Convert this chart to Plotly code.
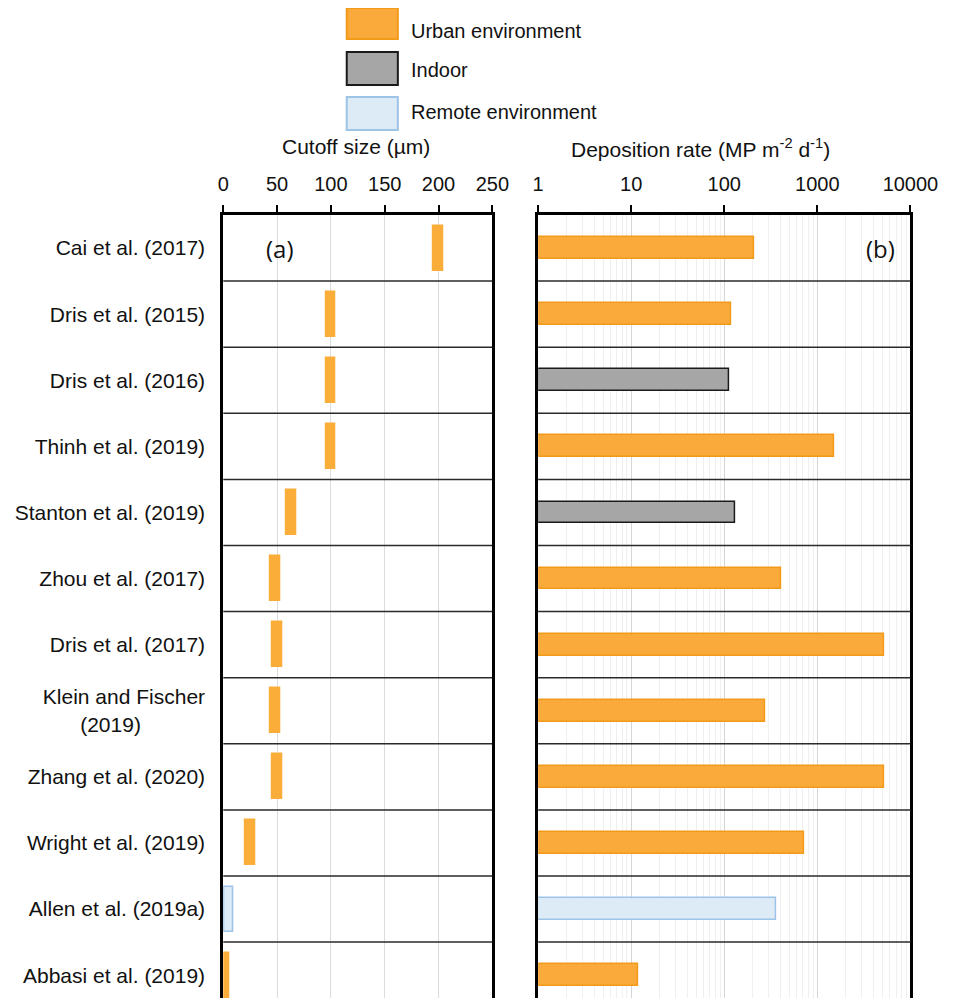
import plotly.graph_objects as go

PAGE_W, PAGE_H = 972, 1006
OFF = 8  # default body margin of the written page
W, H = PAGE_W - 2 * OFF, PAGE_H - 2 * OFF  # figure fits inside the page, no overflow

# ---------------- data ----------------
studies = [
    "Cai et al. (2017)",
    "Dris et al. (2015)",
    "Dris et al. (2016)",
    "Thinh et al. (2019)",
    "Stanton et al. (2019)",
    "Zhou et al. (2017)",
    "Dris et al. (2017)",
    "Klein and Fischer<br>(2019)" + "\u00a0" * 11,
    "Zhang et al. (2020)",
    "Wright et al. (2019)",
    "Allen et al. (2019a)",
    "Abbasi et al. (2019)",
]
environment = ["Urban", "Urban", "Indoor", "Urban", "Indoor", "Urban",
               "Urban", "Urban", "Urban", "Urban", "Remote", "Urban"]
cutoff_um = [200, 100, 100, 100, 63, 48, 50, 48, 50, 25, 5, 1]
deposition = [208, 118, 112, 1500, 130, 410, 5200, 275, 5200, 730, 365, 12]

env_names = ["Urban", "Indoor", "Remote"]
legend_labels = ["Urban environment", "Indoor", "Remote environment"]

cutoff_ticks = [0, 50, 100, 150, 200, 250]
dep_ticks = [1, 10, 100, 1000, 10000]
dep_ticktext = ["1", "10", "100", "1000", "10000"]

# ---------------- styles ----------------
fill = {"Urban": "#F9AA3A", "Indoor": "#A6A6A6", "Remote": "#DDEBF7"}
edge = {"Urban": "#F29A1A", "Indoor": "#1A1A1A", "Remote": "#9DC3E6"}
# panel (a) shows indoor studies in the same orange as urban ones
fill_a = {"Urban": "#FBAD3A", "Indoor": "#FBAD3A", "Remote": "#DDEBF7"}
edge_a = {"Urban": "#FBAD3A", "Indoor": "#FBAD3A", "Remote": "#9DC3E6"}
FONT = "Liberation Sans, Arial, sans-serif"
CUT_W = 9  # visual width of the cutoff marker bar (µm)


def px_x(p):
    return (p - OFF) / W


def px_y(p):
    return 1 - (p - OFF) / H


fig = go.Figure()

for env in env_names:
    idx = [i for i, e in enumerate(environment) if e == env]
    fig.add_trace(go.Bar(
        orientation="h",
        y=idx,
        x=[CUT_W] * len(idx),
        base=[cutoff_um[i] - CUT_W / 2 for i in idx],
        width=0.68,
        marker=dict(color=fill_a[env], line=dict(color=edge_a[env], width=1.5)),
        xaxis="x", yaxis="y", showlegend=False, name=env,
    ))
    fig.add_trace(go.Bar(
        orientation="h",
        y=idx,
        x=[deposition[i] - 1 for i in idx],
        base=[1] * len(idx),
        width=0.33,
        marker=dict(color=fill[env], line=dict(color=edge[env], width=1.5)),
        xaxis="x2", yaxis="y2", showlegend=False, name=env,
    ))

TOP, BOTTOM, ROW = 215, PAGE_H - OFF, 66.1
ydom = [0, px_y(TOP)]
yrange = [-0.5 + (BOTTOM - TOP) / ROW, -0.5]  # last row runs off the page as in the source

fig.update_layout(
    width=W, height=H,
    margin=dict(l=0, r=0, t=0, b=0),
    paper_bgcolor="white", plot_bgcolor="white",
    font=dict(family=FONT, size=20, color="#111"),
    bargap=0,
    barmode="overlay",
    xaxis=dict(
        domain=[px_x(225), px_x(504)], range=[0, 250], side="top",
        tickvals=cutoff_ticks, ticks="outside", ticklen=7, tickwidth=2,
        tickcolor="black", showline=True, linewidth=3, linecolor="black",
        mirror=False, showgrid=True, gridcolor="#DCDCDC", gridwidth=1,
        zeroline=False, anchor="y", tickfont=dict(size=20),
        ticklabelstandoff=6,
    ),
    yaxis=dict(
        domain=ydom, range=yrange, tickvals=list(range(len(studies))),
        ticktext=studies, showline=True, linewidth=3, linecolor="black",
        mirror=True, showgrid=False, zeroline=False, ticks="",
        anchor="x", tickfont=dict(size=21), ticklabelstandoff=11,
    ),
    xaxis2=dict(
        domain=[px_x(551.5), px_x(937.5)], type="log", range=[0, 4], side="top",
        tickvals=dep_ticks, ticktext=dep_ticktext, ticks="outside", ticklen=7,
        tickwidth=2, tickcolor="black", showline=True, linewidth=3,
        linecolor="black", mirror=False, showgrid=True, gridcolor="#D6D6D6",
        gridwidth=1, zeroline=False, anchor="y2", tickfont=dict(size=20),
        ticklabelstandoff=6,
        minor=dict(dtick="D1", showgrid=True, gridcolor="#EFEFEF", gridwidth=1, ticks=""),
    ),
    yaxis2=dict(
        domain=ydom, range=yrange, matches="y", showticklabels=False,
        showline=True, linewidth=3, linecolor="black", mirror=True,
        showgrid=False, zeroline=False, ticks="", anchor="x2",
    ),
)

# row separators
shapes = []
for k in range(len(studies) - 1):
    for xr, yr in (("x domain", "y"), ("x2 domain", "y2")):
        shapes.append(dict(type="line", xref=xr, yref=yr, x0=0, x1=1,
                           y0=k + 0.5, y1=k + 0.5,
                           line=dict(color="#2A2A2A", width=1.5), layer="above"))

# legend boxes (paper coordinates)
legend_rows = [(8, 39), (52, 85), (97, 130)]
legend_text_y = [31, 70, 112]
for env, (t, b) in zip(env_names, legend_rows):
    shapes.append(dict(type="rect", xref="paper", yref="paper",
                       x0=px_x(353), x1=px_x(406), y0=px_y(b), y1=px_y(t),
                       fillcolor=fill[env], line=dict(color=edge[env], width=2),
                       layer="above"))
fig.update_layout(shapes=shapes)

annotations = []
for lab, ty in zip(legend_labels, legend_text_y):
    annotations.append(dict(text=lab, xref="paper", yref="paper",
                            x=px_x(418), y=px_y(ty), xanchor="left",
                            yanchor="middle", showarrow=False,
                            font=dict(size=20, family=FONT, color="#111")))
annotations += [
    dict(text="Cutoff size (µm)", xref="paper", yref="paper", x=px_x(363),
         y=px_y(146), xanchor="center", yanchor="middle", showarrow=False,
         font=dict(size=21, family=FONT, color="#111")),
    dict(text="Deposition rate (MP m<sup>-2</sup> d<sup>-1</sup>)", xref="paper",
         yref="paper", x=px_x(720), y=px_y(148), xanchor="center",
         yanchor="middle", showarrow=False,
         font=dict(size=21, family=FONT, color="#111")),
    dict(text="(a)", xref="paper", yref="paper", x=px_x(284), y=px_y(248),
         xanchor="center", yanchor="middle", showarrow=False,
         font=dict(size=24, family="Open Sans, sans-serif", color="#111")),
    dict(text="(b)", xref="paper", yref="paper", x=px_x(906), y=px_y(248),
         xanchor="center", yanchor="middle", showarrow=False,
         font=dict(size=24, family="Open Sans, sans-serif", color="#111")),
]
fig.update_layout(annotations=annotations)

fig.write_html("out.html", config={"displayModeBar": False})
